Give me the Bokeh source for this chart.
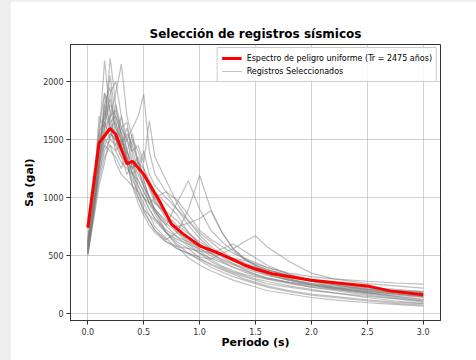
from bokeh.plotting import figure
from bokeh.models import FixedTicker, NumeralTickFormatter, Range1d, Legend, LegendItem
from bokeh.embed import file_html
from bokeh.resources import INLINE

periods = [0, 0.05, 0.1, 0.15, 0.2, 0.25, 0.3, 0.35, 0.4, 0.45, 0.5, 0.55, 0.6, 0.7,
           0.8, 0.9, 1.0, 1.1, 1.2, 1.3, 1.4, 1.5, 1.6, 1.8, 2.0, 2.2, 2.5, 2.75, 3.0]

records = [
    [560, 900, 1500, 2180, 1700, 1500, 1350, 1200, 1300, 1100, 1000, 900, 820, 700, 620, 560, 480, 420, 380, 340, 300, 270, 240, 200, 170, 150, 120, 100, 85],
    [600, 1000, 1700, 1600, 2200, 1800, 1500, 1400, 1250, 1050, 950, 850, 750, 650, 560, 520, 470, 430, 390, 350, 320, 290, 260, 230, 200, 180, 150, 130, 110],
    [520, 850, 1300, 1600, 1700, 1900, 2150, 1700, 1500, 1300, 1150, 1000, 900, 780, 700, 640, 560, 500, 450, 400, 360, 330, 300, 260, 230, 210, 180, 160, 140],
    [580, 950, 1400, 1800, 1650, 1500, 1400, 1500, 1600, 1700, 1890, 1400, 1200, 1050, 900, 760, 650, 560, 490, 430, 380, 340, 310, 270, 240, 220, 190, 170, 150],
    [540, 880, 1200, 1400, 1500, 1450, 1600, 1500, 1400, 1450, 1300, 1660, 1350, 1150, 950, 800, 680, 580, 510, 460, 420, 380, 340, 290, 250, 220, 190, 170, 150],
    [620, 1100, 1600, 1900, 1750, 1600, 1400, 1300, 1150, 1050, 900, 800, 720, 640, 700, 900, 1190, 900, 700, 560, 480, 420, 380, 330, 290, 260, 230, 210, 190],
    [560, 900, 1350, 1500, 1650, 1700, 1550, 1350, 1200, 1150, 1050, 960, 880, 760, 960, 1145, 900, 720, 620, 540, 470, 420, 380, 320, 280, 250, 210, 180, 160],
    [500, 820, 1150, 1350, 1450, 1400, 1300, 1250, 1200, 1100, 1000, 950, 900, 800, 750, 780, 820, 886, 700, 560, 470, 410, 360, 300, 260, 230, 200, 180, 160],
    [590, 1000, 1450, 1700, 1850, 1600, 1500, 1350, 1200, 1000, 880, 800, 720, 620, 560, 520, 490, 470, 520, 560, 620, 672, 580, 450, 350, 300, 260, 240, 220],
    [530, 870, 1250, 1550, 1600, 1650, 1500, 1300, 1100, 950, 850, 760, 700, 620, 580, 560, 540, 520, 500, 480, 460, 430, 400, 350, 320, 300, 280, 265, 255],
    [610, 950, 1300, 1450, 1400, 1350, 1250, 1400, 1300, 1200, 1100, 1000, 900, 700, 600, 520, 460, 400, 360, 320, 290, 260, 230, 190, 160, 140, 110, 90, 75],
    [550, 900, 1350, 1600, 1900, 2000, 1700, 1500, 1300, 1150, 1050, 950, 860, 700, 580, 480, 420, 370, 330, 290, 260, 230, 200, 170, 140, 120, 95, 80, 65],
    [570, 950, 1400, 1750, 1600, 1450, 1350, 1300, 1250, 1300, 1200, 1100, 1000, 850, 720, 620, 540, 470, 410, 370, 340, 320, 300, 270, 250, 230, 210, 200, 190],
    [510, 800, 1100, 1300, 1550, 1500, 1450, 1600, 1400, 1250, 1100, 1000, 950, 880, 800, 700, 600, 520, 460, 420, 390, 360, 330, 290, 260, 240, 220, 200, 180],
    [640, 1050, 1500, 1650, 1800, 1700, 1550, 1300, 1100, 1000, 900, 850, 800, 700, 640, 600, 560, 520, 560, 600, 540, 480, 420, 340, 280, 230, 180, 150, 120],
    [540, 880, 1250, 1500, 1450, 1300, 1200, 1150, 1100, 1050, 1000, 900, 820, 720, 660, 620, 580, 550, 510, 480, 440, 400, 360, 300, 250, 210, 170, 140, 110],
    [600, 980, 1350, 1550, 1700, 1750, 1600, 1400, 1250, 1350, 1150, 1000, 880, 760, 660, 580, 520, 480, 440, 400, 370, 340, 310, 270, 230, 200, 160, 130, 100],
    [520, 850, 1200, 1450, 1550, 1500, 1400, 1300, 1500, 1400, 1250, 1100, 980, 820, 700, 600, 520, 450, 400, 360, 330, 300, 280, 240, 210, 180, 140, 110, 90],
    [580, 950, 1300, 1800, 1950, 1500, 1700, 1400, 1550, 1300, 1250, 1150, 1050, 950, 850, 700, 600, 520, 470, 430, 400, 370, 340, 290, 250, 220, 180, 150, 125],
    [560, 920, 1400, 1650, 1500, 1800, 1600, 1650, 1350, 1250, 1400, 1200, 1100, 1000, 900, 800, 700, 620, 540, 470, 420, 380, 350, 310, 280, 250, 210, 185, 165],
    [530, 900, 1250, 1900, 1600, 1400, 1500, 1350, 1200, 1250, 1100, 950, 1000, 1050, 980, 850, 720, 640, 580, 520, 480, 440, 400, 340, 290, 250, 200, 170, 145],
    [600, 1000, 1550, 1700, 2050, 1650, 1450, 1550, 1450, 1300, 1200, 1080, 960, 850, 760, 690, 620, 560, 500, 450, 420, 400, 380, 330, 290, 260, 225, 200, 180],
]

uhs_periods = [0, 0.1, 0.2, 0.25, 0.35, 0.4, 0.5, 0.65, 0.75, 0.85, 1.0, 1.2, 1.4, 1.5, 1.65, 2.0, 2.5, 2.7, 3.0]
uhs_sa = [740, 1470, 1595, 1545, 1290, 1313, 1200, 955, 770, 690, 585, 510, 420, 385, 345, 289, 240, 197, 163]

x_ticks = [0.0, 0.5, 1.0, 1.5, 2.0, 2.5, 3.0]
y_ticks = [0, 500, 1000, 1500, 2000]

FONT = "DejaVu Sans"

p = figure(width=466, height=359, output_backend="svg", toolbar_location=None,
           x_range=Range1d(-0.155, 3.155), y_range=Range1d(-58, 2318),
           title="Selección de registros sísmicos")
p.min_border_left = 60
p.min_border_right = 36
p.min_border_top = 43
p.min_border_bottom = 40

p.title.align = "center"
p.title.text_font = FONT
p.title.text_font_size = "12px"
p.title.text_font_style = "bold"
p.title.text_color = "#000000"
p.title.standoff = 7

gray_renderers = []
for rec in records:
    r = p.line(periods, rec, line_color="#808080", line_alpha=0.5, line_width=1.2)
    gray_renderers.append(r)

red = p.line(uhs_periods, uhs_sa, line_color="#ff0000", line_width=3)

legend = Legend(items=[
    LegendItem(label="Espectro de peligro uniforme (Tr = 2475 años)", renderers=[red]),
    LegendItem(label="Registros Seleccionados", renderers=[gray_renderers[0]]),
], location="top_right")
legend.label_text_font = FONT
legend.label_text_font_size = "8px"
legend.label_text_color = "#000000"
legend.label_height = 12
legend.glyph_height = 12
legend.glyph_width = 20
legend.label_standoff = 5
legend.spacing = 1
legend.padding = 4
legend.margin = 3
legend.border_line_color = "#cccccc"
legend.border_line_alpha = 1
legend.background_fill_alpha = 0.8
p.add_layout(legend)

for ax in (p.xaxis[0], p.yaxis[0]):
    ax.axis_line_color = "#333333"
    ax.major_tick_line_color = "#333333"
    ax.major_tick_out = 4
    ax.major_tick_in = 0
    ax.minor_tick_line_color = None
    ax.major_label_text_font = FONT
    ax.major_label_text_font_size = "8px"
    ax.major_label_text_color = "#333333"
    ax.major_label_standoff = 3
    ax.axis_label_text_font = FONT
    ax.axis_label_text_font_size = "11px"
    ax.axis_label_text_font_style = "bold"
    ax.axis_label_text_color = "#000000"

p.xaxis[0].ticker = FixedTicker(ticks=x_ticks)
p.xaxis[0].formatter = NumeralTickFormatter(format="0.0")
p.yaxis[0].ticker = FixedTicker(ticks=y_ticks)
p.xaxis[0].axis_label = "Periodo (s)"
p.yaxis[0].axis_label = "Sa (gal)"
p.xaxis[0].axis_label_standoff = -2
p.yaxis[0].axis_label_standoff = 4

p.xgrid.grid_line_color = "#b0b0b0"
p.ygrid.grid_line_color = "#b0b0b0"
p.xgrid.grid_line_alpha = 0.6
p.ygrid.grid_line_alpha = 0.6
p.outline_line_color = "#333333"
p.outline_line_alpha = 1

html = file_html(p, INLINE)
html = html.replace("</head>", "<style>body{margin:1px 0 0 10px;background:#eeeeee;overflow:hidden}</style></head>", 1)
open("out.html", "w").write(html)
